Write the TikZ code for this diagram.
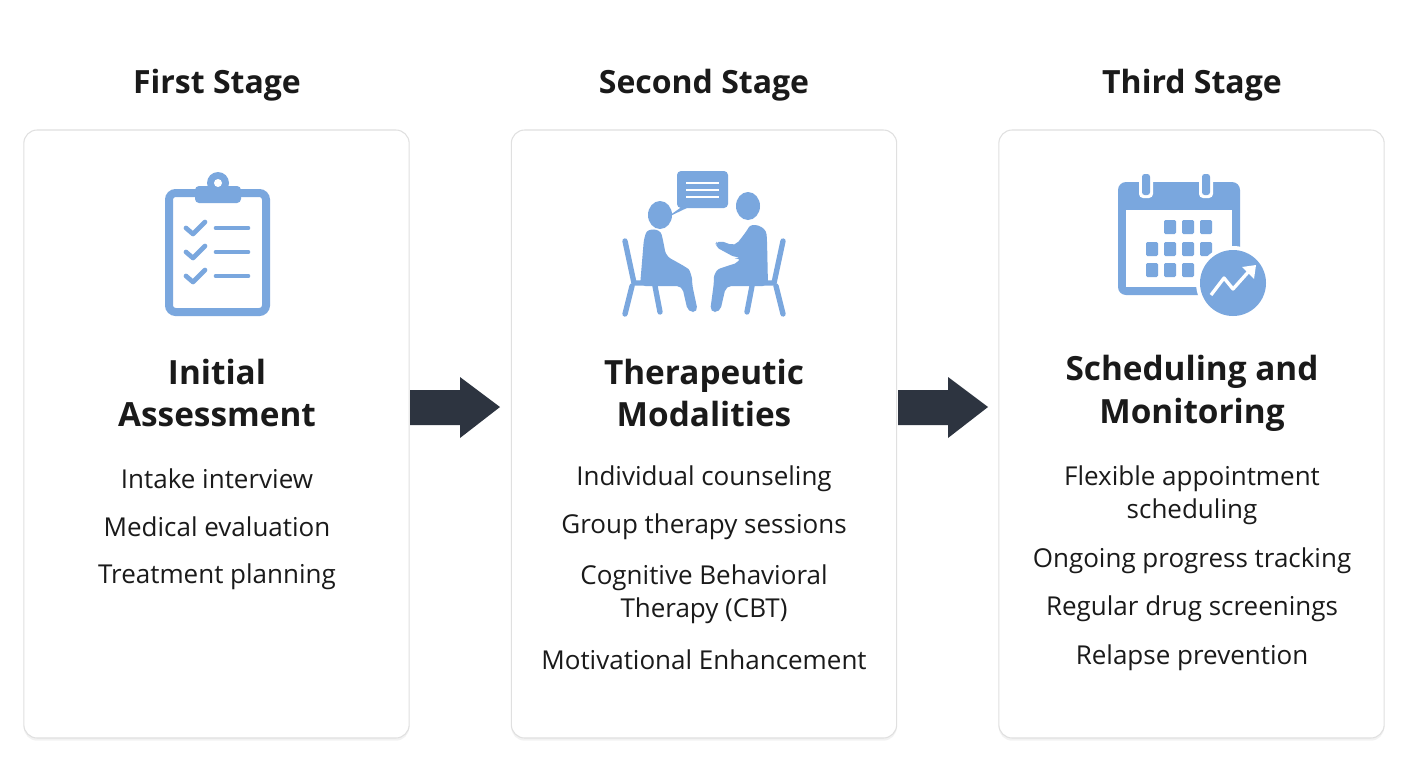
\documentclass[tikz,border=0pt]{standalone}
\usepackage{fontspec}
\setmainfont{Open Sans}
\usetikzlibrary{shadows}
\definecolor{ic}{HTML}{7AA7DE}
\definecolor{ar}{HTML}{2D3440}
\definecolor{tx}{HTML}{1A1A1A}
\begin{document}
\begin{tikzpicture}[x=0.75pt,y=-0.75pt,
 card/.style={draw=black!12,line width=0.8pt,fill=white,rounded corners=10pt,
   drop shadow={shadow xshift=0pt,shadow yshift=-2pt,opacity=0.12,fill=black!40}},
 stage/.style={font=\fontsize{24}{28}\selectfont\bfseries,text=tx},
 head/.style={font=\fontsize{25}{32}\selectfont\bfseries,text=tx,align=center},
 item/.style={font=\fontsize{19.5}{26}\selectfont,text=tx,align=center},
 arr/.style={fill=ar}]
\useasboundingbox (0,0) rectangle (1408,768);
\fill[white] (0,0) rectangle (1408,768);
% cards
\node[card,minimum width=289pt,minimum height=456pt] (c1) at (216.5,434) {};
\node[card,minimum width=289pt,minimum height=456pt] (c2) at (704,434) {};
\node[card,minimum width=289pt,minimum height=456pt] (c3) at (1191.5,434) {};
% stage titles
\node[stage] (s1) at (217,85) {First Stage};
\node[stage] (s2) at (704,85) {Second Stage};
\node[stage] (s3) at (1192,85) {Third Stage};
% arrows
\coordinate (a1) at (410,407);
\coordinate (a2) at (898,407);
\foreach \c in {a1,a2}{
 \fill[arr] (\c) ++(0,-17) -- ++(50,0) -- ++(0,-13) -- ++(40,30) -- ++(-40,31) -- ++(0,-13) -- ++(-50,0) -- cycle;}
% headings
\node[head] (h1) at (217,393) {Initial\\Assessment};
\node[head] (h2) at (704,393) {Therapeutic\\Modalities};
\node[head] (h3) at (1192,393) {Scheduling and\\Monitoring};
% items
\node[item] (i11) at (217,479) {Intake interview};
\node[item] (i12) at (217,527) {Medical evaluation};
\node[item] (i13) at (217,577) {Treatment planning};
\node[item] (i21) at (704,479) {Individual counseling};
\node[item] (i22) at (704,527) {Group therapy sessions};
\node[item,font=\fontsize{19.5}{25}\selectfont] (i23) at (704,594) {Cognitive Behavioral\\Therapy (CBT)};
\node[item] (i24) at (704,660) {Motivational Enhancement};
\node[item,font=\fontsize{19.5}{25}\selectfont] (i31) at (1192,495) {Flexible appointment\\scheduling};
\node[item] (i32) at (1192,561) {Ongoing progress tracking};
\node[item] (i33) at (1192,609) {Regular drug screenings};
\node[item] (i34) at (1192,658) {Relapse prevention};
% clipboard icon
\draw[ic,line width=6pt,rounded corners=5pt] (169,193) rectangle (266,312);
\fill[ic,rounded corners=3pt] (195,186) rectangle (241,203);
\fill[ic] (218,183) circle (11);
\fill[white] (218,183) circle (4);
\foreach \y in {228,252,276}{
 \draw[ic,line width=3.5pt,line cap=round,line join=round] (186,\y) -- (193,\y+6) -- (205,\y-6);
 \draw[ic,line width=3.5pt,line cap=round] (216,\y) -- (248,\y);}
% people icon
\fill[ic,rounded corners=3pt] (677,171) rectangle (728,208);
\fill[ic] (683,206) -- (666,218) -- (691,206) -- cycle;
\foreach \y in {183,190,197}{\draw[white,line width=1.5pt] (686,\y) -- (719,\y);}
\fill[ic] (660,215) ellipse (12 and 14);
\fill[ic] (748,206) ellipse (12 and 14);
% left person
\fill[ic,rounded corners=4pt] (640,286) -- (644,238) .. controls (648,228) and (660,228) .. (663,240) -- (666,256) -- (684,266) .. controls (690,270) and (692,278) .. (692,284) -- (698,312) -- (688,312) -- (682,286) -- (652,286) -- cycle;
\draw[ic,line width=4pt,line cap=round] (625,241) -- (634,283) -- (660,283) (632,286) -- (625,314) (655,286) -- (660,312);
% right person
\fill[ic,rounded corners=4pt] (768,286) -- (767,240) .. controls (766,226) and (752,222) .. (746,232) -- (735,246) -- (718,240) -- (714,246) -- (736,258) -- (740,257) -- (740,262) -- (724,267) .. controls (716,270) and (714,276) .. (714,282) -- (710,312) -- (720,312) -- (726,286) -- cycle;
\draw[ic,line width=4pt,line cap=round] (783,241) -- (774,283) -- (748,283) (776,286) -- (783,314) (752,286) -- (747,312);
% calendar icon
\fill[ic,rounded corners=6pt] (1118,182) rectangle (1240,295);
\fill[white] (1126,210) rectangle (1232,287);
\foreach \x in {1146,1206}{\fill[white,rounded corners=3pt] (\x-7,172) rectangle (\x+7,198);
 \fill[ic,rounded corners=2pt] (\x-4,174) rectangle (\x+4,195);}
\foreach \x/\y in {1170/227,1188/227,1206/227,1152/249,1170/249,1188/249,1206/249,1152/270,1170/270,1188/270}{
 \fill[ic,rounded corners=1pt] (\x-6,\y-7) rectangle (\x+6,\y+7);}
\fill[white] (1233,283) circle (37);
\fill[ic] (1233,283) circle (33);
\draw[white,line width=2.5pt,line join=round] (1211,295) -- (1224,278) -- (1233,289) -- (1250,270);
\fill[white] (1256,265) -- (1242,267) -- (1254,279) -- cycle;
\end{tikzpicture}
\end{document}
